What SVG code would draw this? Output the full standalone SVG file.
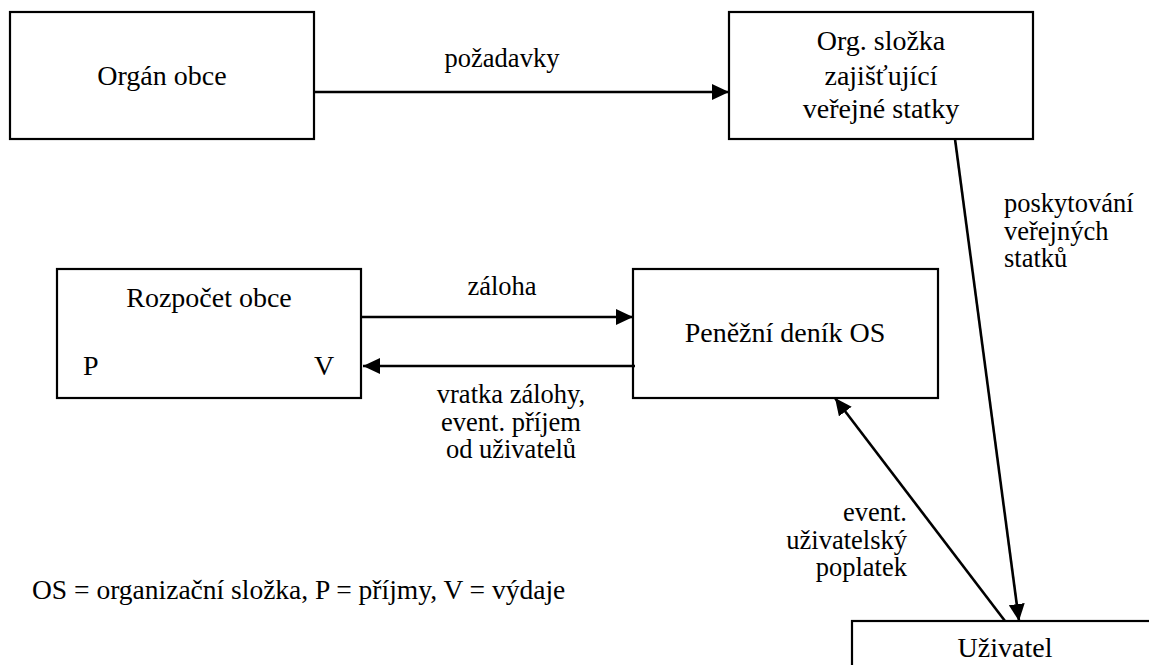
<svg xmlns="http://www.w3.org/2000/svg" width="1149" height="665" viewBox="0 0 1149 665">
<style>
text{font-family:'Liberation Serif','Times New Roman',serif;fill:#000}
.box{fill:#fff;stroke:#000;stroke-width:2.2}
.t{font-size:28px}
.s{font-size:26.5px}
.c{text-anchor:middle}
.e{text-anchor:end}
.ln{fill:none;stroke:#000;stroke-width:2.6}
</style>
<defs>
<marker id="ah" markerUnits="userSpaceOnUse" markerWidth="18" markerHeight="16" refX="17" refY="8" orient="auto">
<path d="M0,0 L17,8 L0,16 Z" fill="#000"/>
</marker>
</defs>
<rect width="1149" height="665" fill="#fff"/>
<g id="organ-obce">
<rect class="box" x="10" y="12" width="304" height="127"/>
<text class="t c" x="162" y="85">Orgán obce</text>
</g>
<g id="org-slozka">
<rect class="box" x="729" y="12" width="304" height="127"/>
<text class="t c" x="881" y="50">Org. složka</text>
<text class="t c" x="881" y="85">zajišťující</text>
<text class="t c" x="881" y="118">veřejné statky</text>
</g>
<g id="rozpocet">
<rect class="box" x="57" y="269" width="304" height="129"/>
<text class="t c" x="209" y="307">Rozpočet obce</text>
<text class="t" x="83" y="375">P</text>
<text class="t" x="314" y="375">V</text>
</g>
<g id="penezni-denik">
<rect class="box" x="633" y="269" width="305" height="129"/>
<text class="t c" x="785" y="342">Peněžní deník OS</text>
</g>
<g id="uzivatel">
<rect class="box" x="852" y="621" width="320" height="80"/>
<text class="t c" x="1005" y="657">Uživatel</text>
</g>
<g id="connectors">
<line class="ln" x1="314" y1="92" x2="729" y2="92" marker-end="url(#ah)"/>
<line class="ln" x1="361" y1="317" x2="633" y2="317" marker-end="url(#ah)"/>
<line class="ln" x1="635" y1="366" x2="363" y2="366" marker-end="url(#ah)"/>
<line class="ln" x1="955" y1="139" x2="1019" y2="621" marker-end="url(#ah)"/>
<line class="ln" x1="1005" y1="621" x2="835" y2="398" marker-end="url(#ah)"/>
</g>
<g id="labels">
<text class="s c" x="502" y="67">požadavky</text>
<text class="s c" x="502" y="295">záloha</text>
<text class="s c" x="511" y="403">vratka zálohy,</text>
<text class="s c" x="511" y="430.5">event. příjem</text>
<text class="s c" x="511" y="458">od uživatelů</text>
<text class="s" x="1004" y="212">poskytování</text>
<text class="s" x="1004" y="239.5">veřejných</text>
<text class="s" x="1004" y="267">statků</text>
<text class="s e" x="907" y="521">event.</text>
<text class="s e" x="907" y="548.5">uživatelský</text>
<text class="s e" x="907" y="576">poplatek</text>
<text class="s" x="32" y="599" style="font-size:27.5px">OS = organizační složka, P = příjmy, V = výdaje</text>
</g>
</svg>
